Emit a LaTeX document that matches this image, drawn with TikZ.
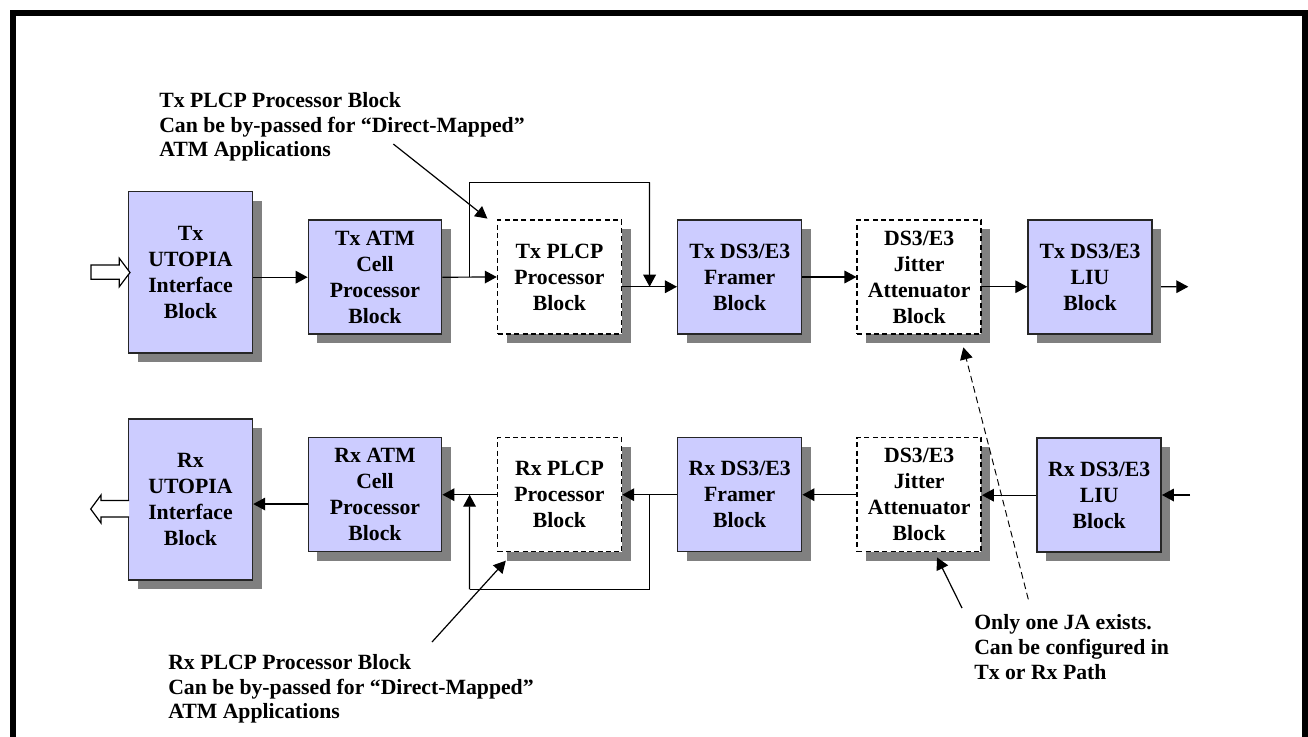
\documentclass[tikz,border=0pt]{standalone}
\usepackage{fontspec}
\setmainfont{Liberation Serif}
\usetikzlibrary{arrows.meta,shadows,calc}
\definecolor{lav}{RGB}{204,204,255}
\begin{document}
\begin{tikzpicture}[x=0.75pt,y=-0.75pt,
  blk/.style={font=\fontsize{16.3}{19.5}\selectfont\bfseries, align=center,
    draw=black!85, line width=1.1pt, fill=lav,
    general shadow={fill=black!50, shadow xshift=6.75pt, shadow yshift=-6.75pt},
    minimum width=93pt, minimum height=85.5pt, inner sep=0pt},
  dblk/.style={blk, fill=white, draw=black, dash pattern=on 3.75pt off 2.5pt},
  arr/.style={draw=black, line width=0.9pt, -{Triangle[length=9pt,width=9.5pt]}},
  ln/.style={draw=black, line width=0.9pt},
  note/.style={font=\fontsize{16.3}{18.5}\selectfont\bfseries, align=left, inner sep=0pt, anchor=west},
]
\path[use as bounding box, clip] (0,0) rectangle (1308,736);
% frame
\draw[line width=4.5pt] (12.5,760) -- (12.5,12.5) -- (1305,12.5) -- (1305,760);

% Tx row
\node[blk, minimum height=121pt] (tu) at (190.5,272.3) {Tx\\UTOPIA\\Interface\\Block};
\node[blk, minimum width=100pt] (ta) at (375,277.2) {Tx ATM\\Cell\\Processor\\Block};
\node[dblk] (tp) at (559.5,277) {Tx PLCP\\Processor\\Block};
\node[blk] (tf) at (739.7,277) {Tx DS3/E3\\Framer\\Block};
\node[dblk] (tj) at (919.2,277) {DS3/E3\\Jitter\\Attenuator\\Block};
\node[blk] (tl) at (1090,277) {Tx DS3/E3\\LIU\\Block};

% Rx row
\node[blk, minimum height=121pt] (ru) at (190.5,499.5) {Rx\\UTOPIA\\Interface\\Block};
\node[blk, minimum width=100pt] (ra) at (375,494.7) {Rx ATM\\Cell\\Processor\\Block};
\node[dblk] (rp) at (559.5,494.7) {Rx PLCP\\Processor\\Block};
\node[blk] (rf) at (739.7,494.7) {Rx DS3/E3\\Framer\\Block};
\node[dblk] (rj) at (919.2,494.7) {DS3/E3\\Jitter\\Attenuator\\Block};
\node[blk] (rl) at (1099.2,495.2) {Rx DS3/E3\\LIU\\Block};

% hollow I/O arrows
\draw[line width=0.9pt, fill=white] (91,265) -- (119.3,265) -- (119.3,258.3) -- (130,272.5) -- (119.3,286.7) -- (119.3,279.3) -- (91,279.3) -- cycle;
\draw[line width=0.9pt, fill=white] (129,500.5) -- (101,500.5) -- (101,495) -- (90.7,509) -- (101,523) -- (101,517) -- (129,517);

% Tx connectors
\draw[arr] (tu.east |- ta.west) -- (ta.west);
\coordinate (b1) at ($(ta.east)!0.5!(tp.west)$);
\draw[arr] (ta.east) -- (tp.west);
\coordinate (m1) at ($([yshift=-7.3pt]tp.east)!0.5!([yshift=-7.3pt]tf.west)$);
\draw[arr] ([yshift=-7.3pt]tp.east) -- ([yshift=-7.3pt]tf.west);
\coordinate (bt) at (649.5,182.3);
\draw[ln] (b1) |- (bt);
\draw[arr] (bt) -- (m1);
\draw[arr] (tf.east) -- (tj.west);
\draw[arr] ([yshift=-7.3pt]tj.east) -- ([yshift=-7.3pt]tl.west);
\coordinate (tout) at (1188.3,286.7);
\draw[arr] ([xshift=6.3pt,yshift=-7.3pt]tl.east) -- (tout);

% Rx connectors
\coordinate (rin) at (1190,495);
\draw[arr] (rin) -- (rin -| rl.east);
\draw[arr] (rl.west) -- (rl.west -| rj.east);
\draw[arr] (rj.west) -- (rf.east);
\coordinate (b2) at ($(rf.west)!0.5!(rp.east)$);
\draw[arr] (rf.west) -- (rp.east);
\coordinate (m2) at ($(rp.west)!0.5!(ra.east)$);
\draw[arr] (rp.west) -- (ra.east);
\coordinate (bb) at (469.5,589.3);
\draw[ln] (b2) |- (bb);
\draw[arr] (bb) -- (m2);
\coordinate (ra1) at ([yshift=-7pt]ra.west);
\draw[arr] (ra1) -- (ra1 -| ru.east);

% notes
\node[note] (tn) at (159,127) {Tx PLCP Processor Block\\Can be by-passed for “Direct-Mapped”\\ATM Applications};
\node[note] (rn) at (168,689) {Rx PLCP Processor Block\\Can be by-passed for “Direct-Mapped”\\ATM Applications};
\node[note] (jn) at (974,647) {Only one JA exists.\\Can be configured in\\Tx or Rx Path};

\coordinate (tn1) at (393.3,144);
\draw[arr] (tn1) -- ([xshift=-7pt,yshift=0.5pt]tp.north west);
\coordinate (rn1) at (432,642);
\draw[arr] (rn1) -- ([xshift=6.75pt,yshift=-6.2pt]rp.south west);
\coordinate (jn1) at (962,608);
\draw[arr] (jn1) -- ([xshift=13.4pt,yshift=-3.75pt]rj.south);
\coordinate (jn2) at (1028.3,599.3);
\draw[arr, line width=0.7pt, dash pattern=on 5pt off 3pt] (jn2) -- ([xshift=33.1pt,yshift=-9.5pt]tj.south);
\end{tikzpicture}
\end{document}
